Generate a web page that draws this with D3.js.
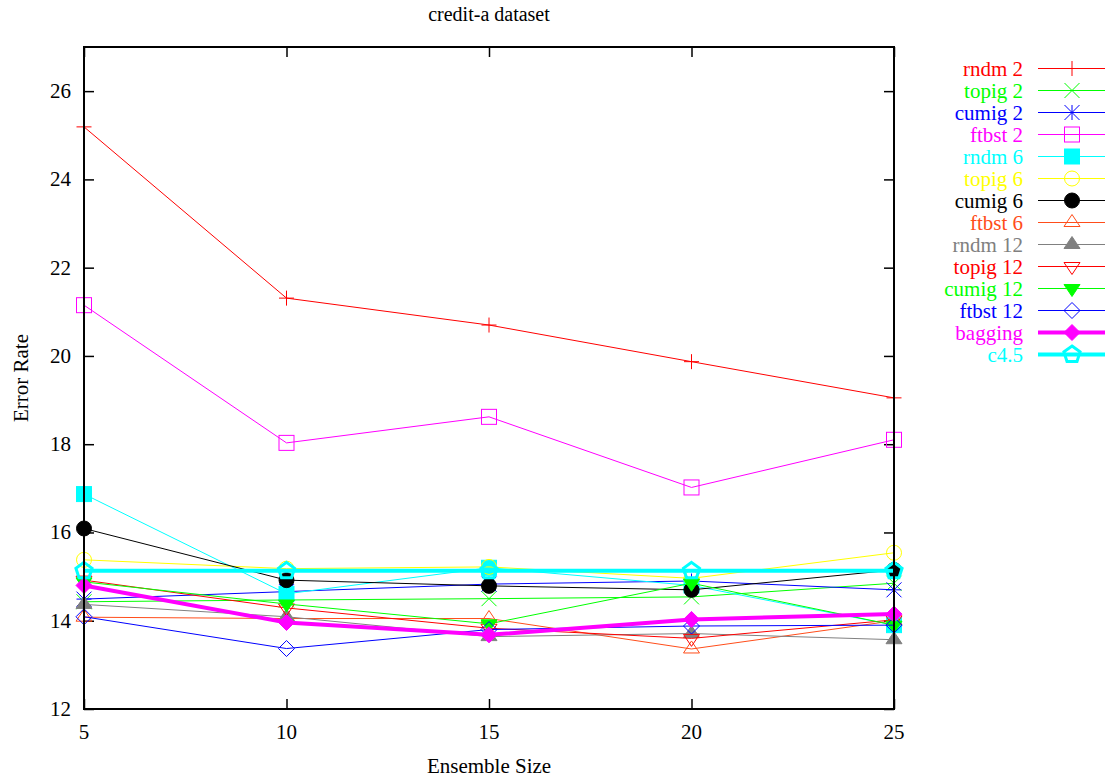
<!DOCTYPE html>
<html>
<head>
<meta charset="utf-8">
<script src="https://cdn.jsdelivr.net/npm/d3@7"></script>
<style>
  html, body { margin: 0; padding: 0; background: #fff; }
</style>
</head>
<body>
<div id="chart"></div>
<script>
// Ensemble sizes on the x axis
const sizes = [5, 10, 15, 20, 25];
const xTicks = [5, 10, 15, 20, 25];
const yTicks = [12, 14, 16, 18, 20, 22, 24, 26];

// Error rate per ensemble size, one array per method
const rndm2   = [25.19, 21.31, 20.70, 19.87, 19.05];
const topig2  = [14.43, 14.47, 14.50, 14.54, 14.85];
const cumig2  = [14.49, 14.66, 14.83, 14.90, 14.70];
const ftbst2  = [21.15, 18.03, 18.62, 17.02, 18.10];
const rndm6   = [16.87, 14.61, 15.20, 14.80, 13.90];
const topig6  = [15.38, 15.18, 15.22, 14.96, 15.54];
const cumig6  = [16.09, 14.92, 14.79, 14.70, 15.15];
const ftbst6  = [14.08, 14.05, 14.05, 13.36, 14.00];
const rndm12  = [14.37, 14.09, 13.64, 13.71, 13.57];
const topig12 = [14.92, 14.29, 13.83, 13.60, 14.02];
const cumig12 = [14.88, 14.38, 13.93, 14.85, 13.90];
const ftbst12 = [14.09, 13.37, 13.80, 13.88, 13.90];
const bagging = [14.80, 13.96, 13.68, 14.03, 14.15];
const c45     = [15.13, 15.13, 15.13, 15.13, 15.13];

const seriesNames = ["rndm 2", "topig 2", "cumig 2", "ftbst 2", "rndm 6", "topig 6", "cumig 6",
                     "ftbst 6", "rndm 12", "topig 12", "cumig 12", "ftbst 12", "bagging", "c4.5"];
const seriesValues = [rndm2, topig2, cumig2, ftbst2, rndm6, topig6, cumig6,
                      ftbst6, rndm12, topig12, cumig12, ftbst12, bagging, c45];

// Styling for each series: colour, marker type, line width
const seriesColors = ["#ff0000", "#00ff00", "#0000ff", "#ff00ff", "#00ffff", "#ffff00", "#000000",
                      "#ff4d1a", "#808080", "#ff0000", "#00ff00", "#0000ff", "#ff00ff", "#00ffff"];
const seriesMarkers = ["plus", "cross", "star", "square", "squareFill", "circle", "circleFill",
                       "triUp", "triUpFill", "triDown", "triDownFill", "diamond", "diamondFill", "pentagon"];
const seriesWidths = [1, 1, 1, 1, 1, 1, 1, 1, 1, 1, 1, 1, 4, 4];

const W = 1112, H = 780;
const plotLeft = 84, plotRight = 894, plotTop = 47, plotBottom = 709;
const serif = "'Liberation Serif', 'Times New Roman', Times, 'DejaVu Serif', serif";

const svg = d3.select("#chart").append("svg")
  .attr("width", W).attr("height", H)
  .style("display", "block")
  .attr("font-family", serif);

const x = d3.scaleLinear().domain([5, 25]).range([plotLeft, plotRight]);
const y = d3.scaleLinear().domain([12, 27]).range([plotBottom, plotTop]);

const fontSize = 21;

// Axes with inward ticks on all four sides
const tickLen = 10;
svg.append("g").attr("transform", `translate(${plotLeft},0)`)
  .call(d3.axisRight(y).tickValues(yTicks).tickSize(tickLen).tickFormat(""))
  .call(g => g.select(".domain").remove());
svg.append("g").attr("transform", `translate(${plotRight},0)`)
  .call(d3.axisLeft(y).tickValues(yTicks).tickSize(tickLen).tickFormat(""))
  .call(g => g.select(".domain").remove());
svg.append("g").attr("transform", `translate(0,${plotBottom})`)
  .call(d3.axisTop(x).tickValues(xTicks).tickSize(tickLen).tickFormat(""))
  .call(g => g.select(".domain").remove());
svg.append("g").attr("transform", `translate(0,${plotTop})`)
  .call(d3.axisBottom(x).tickValues(xTicks).tickSize(tickLen).tickFormat(""))
  .call(g => g.select(".domain").remove());
svg.selectAll(".tick line").attr("stroke", "#000").attr("stroke-width", 1.5);

// Tick labels
svg.append("g").selectAll("text").data(yTicks).join("text")
  .attr("x", plotLeft - 13).attr("y", d => y(d) + 7)
  .attr("font-family", serif)
  .attr("text-anchor", "end").attr("font-size", fontSize).text(d => d);
svg.append("g").selectAll("text").data(xTicks).join("text")
  .attr("x", d => x(d)).attr("y", 739)
  .attr("font-family", serif)
  .attr("text-anchor", "middle").attr("font-size", fontSize).text(d => d);

// Marker shapes
function marker(sel, type, color, sw) {
  const h = 7.5;
  const open = { fill: "none", stroke: color, "stroke-width": sw };
  const filled = { fill: color, stroke: color, "stroke-width": 1 };
  const apply = (el, attrs) => { for (const k in attrs) el.attr(k, attrs[k]); return el; };
  switch (type) {
    case "plus":
      apply(sel.append("path").attr("d", `M${-h},0H${h}M0,${-h}V${h}`), open); break;
    case "cross":
      apply(sel.append("path").attr("d", `M${-h},${-h}L${h},${h}M${-h},${h}L${h},${-h}`), open); break;
    case "star":
      apply(sel.append("path").attr("d", `M${-h},0H${h}M0,${-h}V${h}M${-h},${-h}L${h},${h}M${-h},${h}L${h},${-h}`), open); break;
    case "square":
      apply(sel.append("rect").attr("x", -h).attr("y", -h).attr("width", 2 * h).attr("height", 2 * h), open); break;
    case "squareFill":
      apply(sel.append("rect").attr("x", -h).attr("y", -h).attr("width", 2 * h).attr("height", 2 * h), filled); break;
    case "circle":
      apply(sel.append("circle").attr("r", h), open); break;
    case "circleFill":
      apply(sel.append("circle").attr("r", h), filled); break;
    case "triUp":
      apply(sel.append("path").attr("d", "M0,-8L8,4L-8,4Z"), open); break;
    case "triUpFill":
      apply(sel.append("path").attr("d", "M0,-8L8,4L-8,4Z"), filled); break;
    case "triDown":
      apply(sel.append("path").attr("d", "M0,8L8,-4L-8,-4Z"), open); break;
    case "triDownFill":
      apply(sel.append("path").attr("d", "M0,8L8,-4L-8,-4Z"), filled); break;
    case "diamond":
      apply(sel.append("path").attr("d", "M0,-8L8,0L0,8L-8,0Z"), open); break;
    case "diamondFill":
      apply(sel.append("path").attr("d", "M0,-8L8,0L0,8L-8,0Z"), filled); break;
    case "pentagon": {
      const r = 8.5;
      const pts = d3.range(5).map(i => {
        const a = -Math.PI / 2 + i * 2 * Math.PI / 5;
        return [r * Math.cos(a), r * Math.sin(a)];
      });
      apply(sel.append("path").attr("d", "M" + pts.join("L") + "Z"), { fill: "none", stroke: color, "stroke-width": 3 });
      break;
    }
  }
}

const line = d3.line().x(d => x(d[0])).y(d => y(d[1]));
const plot = svg.append("g");

seriesValues.forEach((vals, i) => {
  const pts = sizes.map((s, j) => [s, vals[j]]);
  const g = plot.append("g");
  g.append("path").datum(pts).attr("d", line)
    .attr("fill", "none").attr("stroke", seriesColors[i]).attr("stroke-width", seriesWidths[i]);
  pts.forEach(p => {
    const m = g.append("g").attr("transform", `translate(${x(p[0])},${y(p[1])})`);
    marker(m, seriesMarkers[i], seriesColors[i], 1);
  });
});

// Plot frame
svg.append("rect").attr("x", plotLeft).attr("y", plotTop)
  .attr("width", plotRight - plotLeft).attr("height", plotBottom - plotTop)
  .attr("fill", "none").attr("stroke", "#000").attr("stroke-width", 2);

// Legend
const legend = svg.append("g");
seriesNames.forEach((name, i) => {
  const ly = 68.5 + i * 22;
  legend.append("text").attr("x", 1023).attr("y", ly + 7)
    .attr("font-family", serif)
    .attr("text-anchor", "end").attr("font-size", fontSize)
    .attr("fill", seriesColors[i]).text(name);
  legend.append("line").attr("x1", 1038).attr("x2", 1105).attr("y1", ly).attr("y2", ly)
    .attr("stroke", seriesColors[i]).attr("stroke-width", seriesWidths[i]);
  const m = legend.append("g").attr("transform", `translate(1072,${ly})`);
  marker(m, seriesMarkers[i], seriesColors[i], 1);
});

// Titles
svg.append("text").attr("x", 489).attr("y", 21).attr("text-anchor", "middle")
  .attr("font-family", serif).attr("font-size", 20).text("credit-a dataset");
svg.append("text").attr("x", 489).attr("y", 773).attr("text-anchor", "middle")
  .attr("font-family", serif).attr("font-size", fontSize).text("Ensemble Size");
svg.append("text").attr("transform", "translate(28,378) rotate(-90)")
  .attr("font-family", serif)
  .attr("text-anchor", "middle").attr("font-size", fontSize).text("Error Rate");
</script>
</body>
</html>
